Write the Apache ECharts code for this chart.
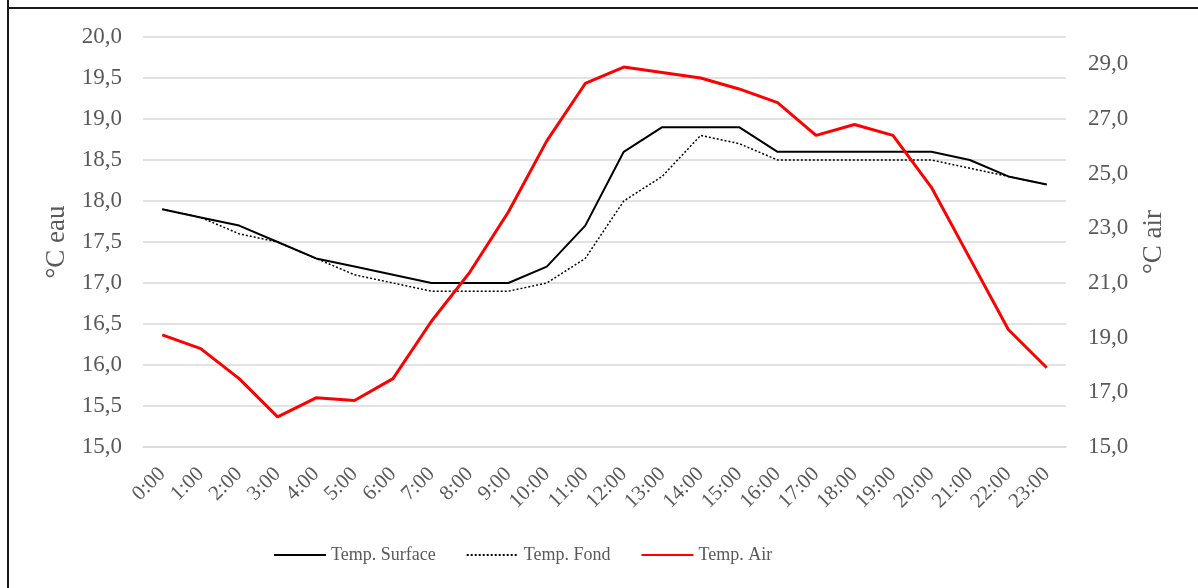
<!DOCTYPE html>
<html>
<head>
<meta charset="utf-8">
<script src="https://cdn.jsdelivr.net/npm/echarts@6/dist/echarts.min.js"></script>
<style>
html,body{margin:0;padding:0;background:#fff;}
#chart{width:1198px;height:588px;}
</style>
</head>
<body>
<div id="chart"></div>
<script>
const hours = ['0:00','1:00','2:00','3:00','4:00','5:00','6:00','7:00','8:00','9:00','10:00','11:00','12:00','13:00','14:00','15:00','16:00','17:00','18:00','19:00','20:00','21:00','22:00','23:00'];
const tempSurface = [17.9,17.8,17.7,17.5,17.3,17.2,17.1,17.0,17.0,17.0,17.2,17.7,18.6,18.9,18.9,18.9,18.6,18.6,18.6,18.6,18.6,18.5,18.3,18.2];
const tempFond = [17.9,17.8,17.6,17.5,17.3,17.1,17.0,16.9,16.9,16.9,17.0,17.3,18.0,18.3,18.8,18.7,18.5,18.5,18.5,18.5,18.5,18.4,18.3,18.2];
const tempAir = [19.1,18.6,17.5,16.1,16.8,16.7,17.5,19.6,21.4,23.6,26.2,28.3,28.9,28.7,28.5,28.1,27.6,26.4,26.8,26.4,24.5,21.9,19.3,17.9];
const rightTicks = [15,17,19,21,23,25,27,29];
const seriesNames = ['Temp. Surface','Temp. Fond','Temp. Air'];

const FONT = '"Liberation Serif", "Times New Roman", serif';
const LABEL = '#595959';
const fmt = v => Number(v).toFixed(1).replace('.', ',');

const chart = echarts.init(document.getElementById('chart'));
chart.setOption({
  backgroundColor: '#fff',
  animation: false,
  textStyle: {fontFamily: FONT},
  graphic: [
    {type:'line', shape:{x1:8, y1:0, x2:8, y2:588}, style:{stroke:'#1a1a1a', lineWidth:2}},
    {type:'line', shape:{x1:7, y1:8, x2:1198, y2:8}, style:{stroke:'#1a1a1a', lineWidth:2}}
  ],
  grid: {left: 143, right: 132, top: 37, bottom: 141, containLabel: false},
  legend: {
    top: 546,
    left: 273,
    padding: 0,
    itemWidth: 52,
    itemHeight: 10,
    itemGap: 30,
    itemStyle: {opacity: 0},
    textStyle: {fontFamily: FONT, fontSize: 18, color: LABEL},
    data: seriesNames
  },
  xAxis: {
    type: 'category',
    data: hours,
    boundaryGap: true,
    axisLine: {show: true, lineStyle: {color: '#d9d9d9', width: 1.5}},
    axisTick: {show: false},
    axisLabel: {rotate: 45, fontFamily: FONT, fontSize: 21, color: LABEL, margin: 24, interval: 0}
  },
  yAxis: [
    {
      type: 'value', min: 15, max: 20, interval: 0.5,
      name: '°C eau', nameLocation: 'middle', nameGap: 70, nameRotate: 90,
      nameTextStyle: {fontFamily: FONT, fontSize: 27, color: LABEL},
      axisLine: {show: false}, axisTick: {show: false},
      axisLabel: {formatter: fmt, fontFamily: FONT, fontSize: 23, color: LABEL, margin: 21},
      splitLine: {show: true, lineStyle: {color: '#d9d9d9', width: 1.5}}
    },
    {
      type: 'value', min: 15, max: 30,
      name: '°C air', nameLocation: 'middle', nameGap: 74, nameRotate: 90,
      nameTextStyle: {fontFamily: FONT, fontSize: 27, color: LABEL},
      axisLine: {show: false}, axisTick: {show: false},
      axisLabel: {customValues: rightTicks, formatter: fmt, fontFamily: FONT, fontSize: 23, color: LABEL, margin: 22},
      splitLine: {show: false}
    }
  ],
  series: [
    {name: seriesNames[0], type: 'line', yAxisIndex: 0, data: tempSurface, symbol: 'none',
     lineStyle: {color: '#000', width: 2}, itemStyle: {color: '#000'}},
    {name: seriesNames[1], type: 'line', yAxisIndex: 0, data: tempFond, symbol: 'none',
     lineStyle: {color: '#000', width: 1.5, type: [2, 2]}, itemStyle: {color: '#000'}},
    {name: seriesNames[2], type: 'line', yAxisIndex: 1, data: tempAir, symbol: 'none',
     lineStyle: {color: '#ff0000', width: 3}, itemStyle: {color: '#ff0000'}}
  ]
});
</script>
</body>
</html>
